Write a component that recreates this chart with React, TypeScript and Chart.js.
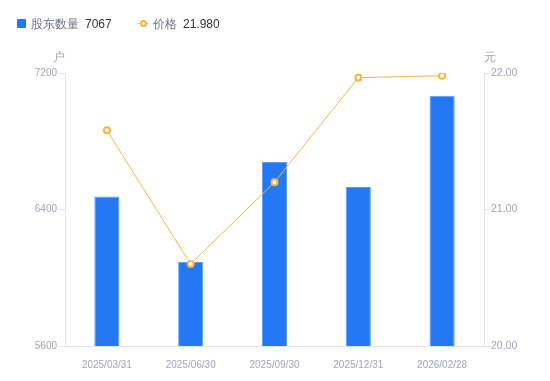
import React, { useEffect, useRef } from "react";
import { Chart, registerables } from "chart.js";

Chart.register(...registerables);

const categories = ["2025/03/31", "2025/06/30", "2025/09/30", "2025/12/31", "2026/02/28"];
const holders = [6476, 6092, 6678, 6532, 7067];
const prices = [21.58, 20.6, 21.2, 21.966, 21.98];
const leftTicks = [5600, 6400, 7200];
const rightTicks = [20, 21, 22];

const FONT = "'Liberation Sans', Arial, sans-serif";
const TICK_COLOR = "#a3a5b3";
const AXIS_COLOR = "#e3e4e8";
const BLUE = "#2477f5";
const ORANGE = "#f8b53f";

export default function App() {
  const ref = useRef<HTMLCanvasElement | null>(null);

  useEffect(() => {
    document.body.style.margin = "0";
    const ctx = ref.current!.getContext("2d")!;
    const chart = new Chart(ctx, {
      data: {
        labels: categories,
        datasets: [
          {
            type: "line",
            label: "价格",
            data: prices,
            yAxisID: "y1",
            borderColor: ORANGE,
            borderWidth: 1,
            pointRadius: 3,
            pointBorderWidth: 2,
            pointBackgroundColor: "#ffffff",
            pointBorderColor: ORANGE,
            tension: 0,
            order: 0,
          },
          {
            type: "bar",
            label: "股东数量",
            data: holders,
            yAxisID: "y",
            backgroundColor: BLUE,
            borderColor: "#5c9bf8",
            borderWidth: { left: 1, right: 1, top: 1, bottom: 0 },
            barPercentage: 0.3,
            categoryPercentage: 1,
            order: 1,
          },
        ],
      },
      options: {
        animation: false,
        responsive: false,
        maintainAspectRatio: false,
        layout: { padding: { top: 73, left: 0, right: 0, bottom: 0 } },
        plugins: { legend: { display: false }, tooltip: { enabled: false } },
        scales: {
          x: {
            offset: true,
            grid: { display: false },
            border: { display: true, color: AXIS_COLOR },
            ticks: { color: TICK_COLOR, font: { family: FONT, size: 10 }, padding: 5, maxRotation: 0 },
            afterFit: (s: any) => { s.height = 35; },
          },
          y: {
            position: "left",
            min: leftTicks[0],
            max: leftTicks[leftTicks.length - 1],
            afterBuildTicks: (s: any) => { s.ticks = leftTicks.map((v) => ({ value: v })); },
            grid: { drawOnChartArea: false, drawTicks: true, tickLength: 6, color: AXIS_COLOR },
            border: { display: true, color: AXIS_COLOR },
            ticks: { color: TICK_COLOR, font: { family: FONT, size: 10 }, padding: 2, callback: (v: any) => String(v) },
            afterFit: (s: any) => { s.width = 65; },
          },
          y1: {
            position: "right",
            min: rightTicks[0],
            max: rightTicks[rightTicks.length - 1],
            afterBuildTicks: (s: any) => { s.ticks = rightTicks.map((v) => ({ value: v })); },
            grid: { drawOnChartArea: false, drawTicks: true, tickLength: 6, color: AXIS_COLOR },
            border: { display: true, color: AXIS_COLOR },
            ticks: { color: TICK_COLOR, font: { family: FONT, size: 10.5 }, padding: 1, callback: (v: any) => Number(v).toFixed(2) },
            afterFit: (s: any) => { s.width = 66; },
          },
        },
      },
    } as any);
    return () => chart.destroy();
  }, []);

  const label: React.CSSProperties = { position: "absolute", fontFamily: FONT, fontSize: 12, lineHeight: "16px", whiteSpace: "nowrap" };
  return (
    <div style={{ position: "relative", width: 550, height: 381 }}>
      <canvas ref={ref} width={550} height={381} style={{ display: "block", width: 550, height: 381 }} />
      <div style={{ position: "absolute", left: 17, top: 19, width: 9, height: 9, background: BLUE, borderRadius: 1 }} />
      <div style={{ ...label, left: 31, top: 16, color: "#707380" }}>股东数量</div>
      <div style={{ ...label, left: 85, top: 16, color: "#333333" }}>{String(holders[holders.length - 1])}</div>
      <div style={{ position: "absolute", left: 138, top: 23, width: 10, height: 1, background: ORANGE }} />
      <div style={{ position: "absolute", left: 140, top: 20, width: 3, height: 3, border: `2px solid ${ORANGE}`, borderRadius: "50%", background: "#fff" }} />
      <div style={{ ...label, left: 153, top: 16, color: "#707380" }}>价格</div>
      <div style={{ ...label, left: 183, top: 16, color: "#333333" }}>{prices[prices.length - 1].toFixed(3)}</div>
      <div style={{ ...label, left: 53, top: 49, fontSize: 12, color: TICK_COLOR }}>户</div>
      <div style={{ ...label, left: 484, top: 49, fontSize: 12, color: TICK_COLOR }}>元</div>
    </div>
  );
}
